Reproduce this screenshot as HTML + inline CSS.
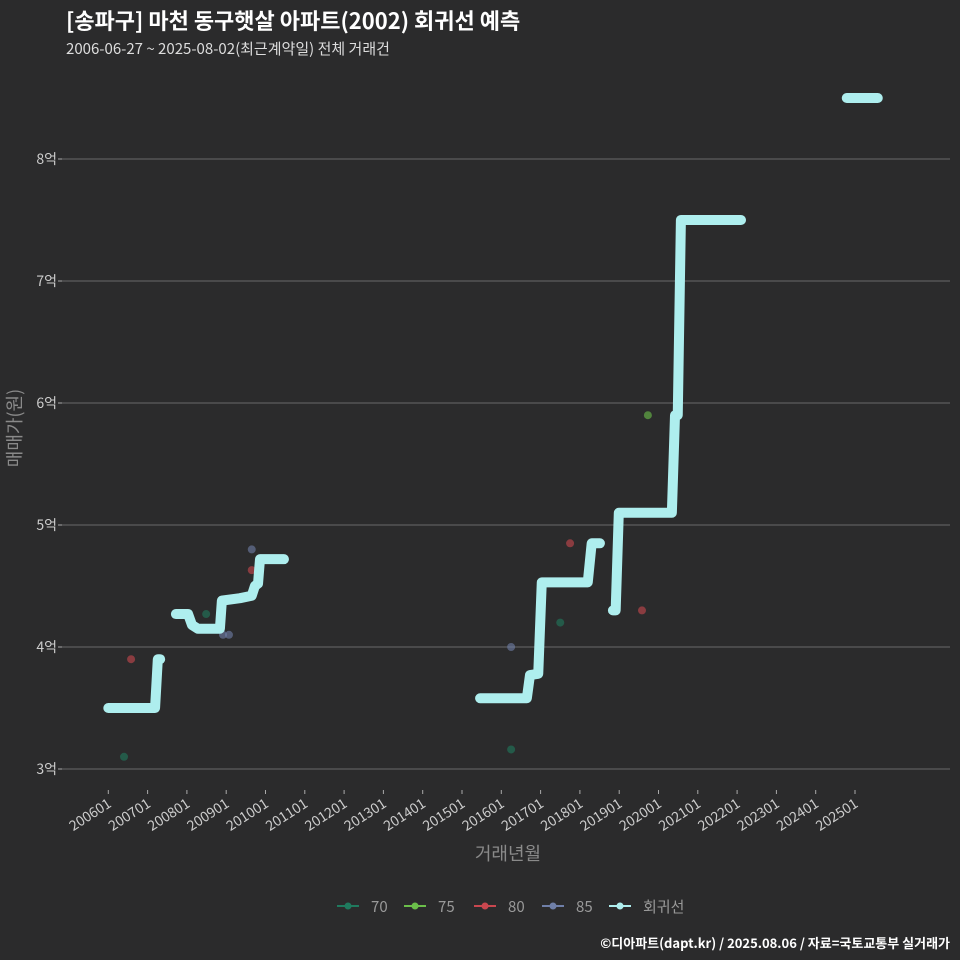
<!DOCTYPE html>
<html><head><meta charset="utf-8"><style>
html,body{margin:0;background:#2b2b2c;overflow:hidden;width:960px;height:960px;}
svg{display:block;}
svg text{font-family:"Noto Sans CJK KR","Liberation Sans",sans-serif;}
</style></head><body>
<svg id="chart" width="960" height="960" xmlns="http://www.w3.org/2000/svg">
<rect width="960" height="960" fill="#2b2b2c"/>
<text x="66" y="29" fill="#ffffff" font-size="22" font-weight="bold">[송파구] 마천 동구햇살 아파트(2002) 회귀선 예측</text>
<text x="66" y="54" fill="#dddddd" font-size="15">2006-06-27 ~ 2025-08-02(최근계약일) 전체 거래건</text>
<g id="grid"></g><g id="ylabels"></g><g id="xlabels"></g><g id="points"></g><g id="lines"></g>
<text transform="translate(21,428) rotate(-90)" text-anchor="middle" fill="#8a8a8a" font-size="18">매매가(원)</text>
<text x="508" y="860" text-anchor="middle" fill="#8a8a8a" font-size="18">거래년월</text>
<g id="legend"></g>
<text x="950" y="948" text-anchor="end" fill="#ffffff" font-size="13" font-weight="bold">©디아파트(dapt.kr) / 2025.08.06 / 자료=국토교통부 실거래가</text>
</svg>
<script>
const yTicks=[3,4,5,6,7,8];
const xTickYears=[2006,2007,2008,2009,2010,2011,2012,2013,2014,2015,2016,2017,2018,2019,2020,2021,2022,2023,2024,2025];
const regSegments=[
 [[2006.0,3.5],[2007.19,3.5],[2007.26,3.9],[2007.32,3.9]],
 [[2007.72,4.27],[2008.03,4.27],[2008.13,4.18],[2008.28,4.15],[2008.84,4.15],[2008.89,4.38],[2009.35,4.40],[2009.65,4.42],[2009.73,4.5],[2009.81,4.52],[2009.86,4.72],[2010.47,4.72]],
 [[2015.46,3.58],[2016.65,3.58],[2016.73,3.77],[2016.94,3.78],[2017.03,4.53],[2018.2,4.53],[2018.3,4.85],[2018.51,4.85]],
 [[2018.84,4.30],[2018.91,4.30],[2018.99,5.1],[2020.34,5.1],[2020.42,5.9],[2020.49,5.9],[2020.57,7.5],[2022.1,7.5]],
 [[2024.79,8.5],[2025.58,8.5]]
];
const pointDates=[2006.4,2006.58,2008.49,2008.92,2009.07,2009.65,2009.65,2016.25,2016.25,2017.5,2017.75,2019.58,2019.73];
const pointValues=[3.10,3.90,4.27,4.10,4.10,4.80,4.63,4.00,3.16,4.20,4.85,4.30,5.90];
const pointGroups=["70","80","70","85","85","85","80","85","70","70","80","80","75"];
const groups=["70","75","80","85"];
const colors={"70":"#1f7a5e","75":"#6bbf4a","80":"#c9474f","85":"#6f7fa8"};
const lineColor="#aeeeee";
const NS="http://www.w3.org/2000/svg";
function X(y){return 108.3+39.3*(y-2006);}
function Y(v){return 769-122*(v-3);}
function mk(t,a,p){const e=document.createElementNS(NS,t);for(const k in a)e.setAttribute(k,a[k]);p.appendChild(e);return e;}
const grid=document.getElementById('grid'),yl=document.getElementById('ylabels'),xl=document.getElementById('xlabels');
yTicks.forEach(v=>{
 const l=mk('line',{x1:62,x2:950,y1:Y(v),y2:Y(v),stroke:'#6a6a6a','stroke-width':1},grid);
 
 
 mk('line',{x1:58,x2:62,y1:Y(v),y2:Y(v),stroke:'#aaaaaa'},grid);
 const t=mk('text',{x:57,y:Y(v)+5,'text-anchor':'end',fill:'#cccccc','font-size':14},yl);
 t.textContent=v+'억';
 
 
});
xTickYears.forEach(yr=>{
 const x=X(yr);
 mk('line',{x1:x,x2:x,y1:790,y2:794,stroke:'#aaaaaa'},xl);
 const t=mk('text',{transform:`translate(${x+4},${806}) rotate(-33)`,'text-anchor':'end',fill:'#cccccc','font-size':14},xl);
 t.textContent=yr+'01';
 
 
});
const pg=document.getElementById('points');
pointDates.forEach((d,i)=>{
 const c=mk('circle',{cx:X(d),cy:Y(pointValues[i]),r:4,fill:colors[pointGroups[i]],'fill-opacity':0.6},pg);
 
 
});
const lg=document.getElementById('lines');
regSegments.forEach((s,i)=>{
 const p=mk('path',{d:s.map((q,j)=>(j?'L':'M')+X(q[0])+','+Y(q[1])).join(''),fill:'none',stroke:lineColor,'stroke-width':10,'stroke-linecap':'round','stroke-linejoin':'round'},lg);
 
 
});
const leg=document.getElementById('legend');
const legItems=[["70",348],["75",415],["80",485],["85",553],["회귀선",620]];
legItems.forEach(([k,x])=>{
 const g=mk('g',{},leg);
 
 
 const col=colors[k]||lineColor;
 mk('line',{x1:x-11,x2:x+11,y1:906,y2:906,stroke:col,'stroke-width':2},g);
 mk('circle',{cx:x,cy:906,r:3.5,fill:col},g);
 const t=mk('text',{x:x+23,y:912,fill:'#999999','font-size':15},g);
 t.textContent=k;
});
</script>
</body></html>
